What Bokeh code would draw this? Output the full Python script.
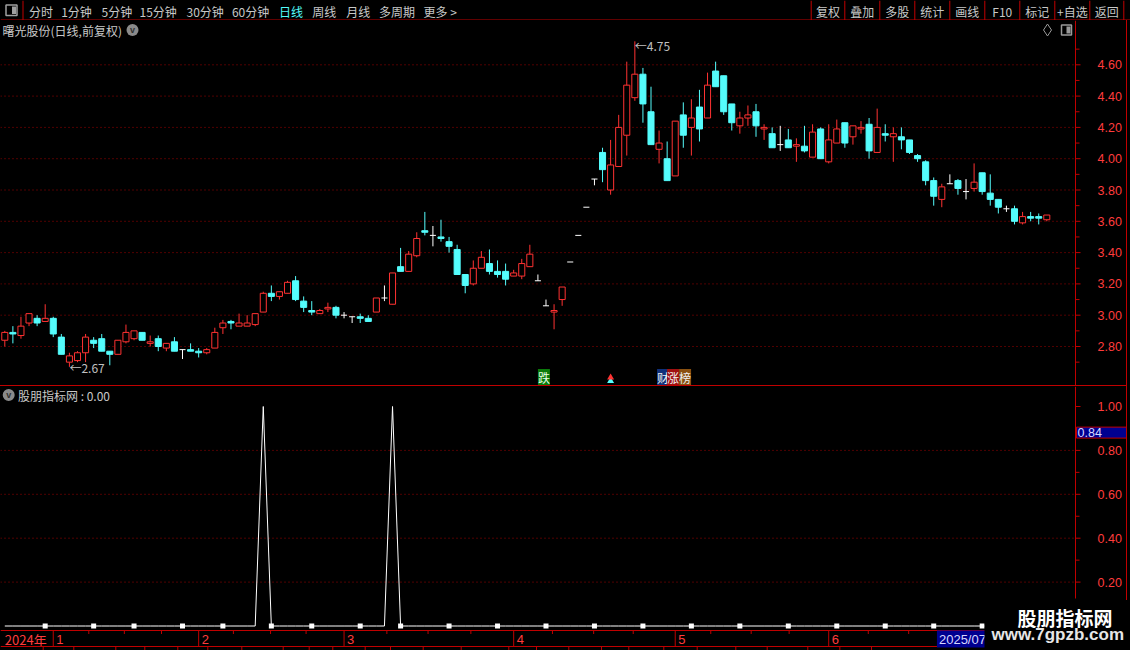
from bokeh.plotting import figure
from bokeh.models import Range1d, Label, Spacer, Span
from bokeh.layouts import column, row
from bokeh.embed import file_html
from bokeh.resources import INLINE
from bokeh.core.properties import value

# ---------------- daily bars (曙光股份, 前复权) ----------------
opens = [
    2.84, 2.89, 2.87, 2.95, 2.98, 2.96, 2.98, 2.86, 2.70, 2.71,
    2.76, 2.84, 2.85, 2.77, 2.75, 2.83, 2.85, 2.89, 2.82, 2.85,
    2.79, 2.83, 2.78, 2.78, 2.77, 2.76, 2.79, 2.92, 2.96, 2.93,
    2.93, 2.94, 3.02, 3.14, 3.12, 3.14, 3.22, 3.09, 3.03, 3.01,
    3.04, 3.05, 3.00, 2.99, 2.99, 2.98, 3.02, 3.11, 3.07, 3.31,
    3.28, 3.38, 3.54, 3.51, 3.50, 3.47, 3.42, 3.26, 3.20, 3.30,
    3.33, 3.28, 3.28, 3.25, 3.25, 3.31, 3.22, 3.06, 3.02, 3.10,
    3.34, 3.51, 3.69, 3.87, 4.04, 3.80, 3.95, 4.15, 4.39, 4.54,
    4.30, 4.06, 4.00, 3.89, 4.28, 4.20, 4.33, 4.26, 4.56, 4.53,
    4.35, 4.21, 4.26, 4.30, 4.19, 4.16, 4.09, 4.12, 4.08, 4.08,
    4.01, 4.19, 3.98, 4.10, 4.23, 4.14, 4.19, 4.22, 4.04, 4.16,
    4.14, 4.14, 4.12, 4.02, 3.98, 3.86, 3.74, 3.84, 3.86, 3.79,
    3.81, 3.91, 3.78, 3.74, 3.68, 3.68, 3.59, 3.63, 3.63, 3.61,
]
highs = [
    2.90, 2.93, 2.99, 3.01, 3.00, 3.07, 2.99, 2.88, 2.76, 2.77,
    2.88, 2.86, 2.88, 2.77, 2.84, 2.94, 2.90, 2.89, 2.87, 2.87,
    2.82, 2.86, 2.78, 2.82, 2.79, 2.79, 2.92, 2.97, 2.97, 3.01,
    3.00, 3.01, 3.15, 3.19, 3.15, 3.22, 3.25, 3.12, 3.09, 3.04,
    3.08, 3.06, 3.02, 2.99, 3.01, 3.00, 3.11, 3.19, 3.27, 3.43,
    3.41, 3.53, 3.66, 3.57, 3.61, 3.50, 3.45, 3.26, 3.35, 3.41,
    3.42, 3.35, 3.33, 3.29, 3.36, 3.45, 3.26, 3.10, 3.07, 3.18,
    3.34, 3.51, 3.69, 3.87, 4.07, 4.12, 4.28, 4.62, 4.75, 4.58,
    4.46, 4.18, 4.11, 4.24, 4.36, 4.38, 4.44, 4.55, 4.62, 4.53,
    4.35, 4.30, 4.34, 4.35, 4.22, 4.20, 4.21, 4.19, 4.13, 4.21,
    4.22, 4.20, 4.22, 4.25, 4.23, 4.21, 4.24, 4.26, 4.32, 4.22,
    4.20, 4.20, 4.12, 4.03, 3.99, 3.88, 3.84, 3.90, 3.87, 3.87,
    3.97, 3.91, 3.90, 3.74, 3.70, 3.70, 3.66, 3.66, 3.65, 3.64,
]
lows = [
    2.80, 2.82, 2.85, 2.93, 2.93, 2.96, 2.86, 2.75, 2.67, 2.70,
    2.70, 2.79, 2.77, 2.68, 2.75, 2.82, 2.84, 2.84, 2.80, 2.77,
    2.77, 2.77, 2.72, 2.77, 2.73, 2.75, 2.79, 2.88, 2.91, 2.93,
    2.93, 2.93, 3.02, 3.09, 3.10, 3.14, 3.09, 3.02, 3.00, 3.01,
    3.02, 2.98, 2.98, 2.95, 2.95, 2.96, 3.02, 3.09, 3.07, 3.28,
    3.28, 3.37, 3.51, 3.44, 3.47, 3.40, 3.26, 3.14, 3.19, 3.30,
    3.26, 3.24, 3.19, 3.25, 3.23, 3.31, 3.22, 3.06, 2.91, 3.06,
    3.34, 3.51, 3.69, 3.83, 3.85, 3.77, 3.95, 4.02, 4.37, 4.23,
    4.09, 3.97, 3.86, 3.89, 4.07, 4.02, 4.11, 4.26, 4.46, 4.28,
    4.18, 4.16, 4.21, 4.14, 4.12, 4.07, 4.05, 4.07, 3.98, 4.04,
    4.01, 4.00, 3.97, 4.10, 4.07, 4.09, 4.16, 4.00, 4.04, 4.11,
    3.98, 4.06, 4.03, 3.98, 3.83, 3.70, 3.69, 3.84, 3.77, 3.74,
    3.79, 3.77, 3.70, 3.65, 3.66, 3.58, 3.58, 3.60, 3.58, 3.60,
]
closes = [
    2.89, 2.88, 2.93, 3.01, 2.95, 2.98, 2.88, 2.75, 2.74, 2.76,
    2.86, 2.82, 2.77, 2.75, 2.84, 2.89, 2.90, 2.84, 2.83, 2.80,
    2.82, 2.77, 2.78, 2.77, 2.76, 2.78, 2.89, 2.95, 2.95, 2.95,
    2.95, 3.01, 3.14, 3.12, 3.15, 3.21, 3.10, 3.05, 3.02, 3.03,
    3.05, 3.00, 3.00, 2.99, 2.98, 2.96, 3.11, 3.11, 3.27, 3.28,
    3.39, 3.49, 3.53, 3.51, 3.49, 3.44, 3.26, 3.19, 3.30, 3.37,
    3.28, 3.26, 3.23, 3.27, 3.33, 3.39, 3.22, 3.06, 3.03, 3.18,
    3.34, 3.51, 3.69, 3.87, 3.93, 3.96, 4.20, 4.47, 4.54, 4.35,
    4.09, 4.10, 3.86, 4.24, 4.15, 4.26, 4.19, 4.47, 4.46, 4.30,
    4.23, 4.26, 4.28, 4.21, 4.20, 4.07, 4.09, 4.07, 4.09, 4.05,
    4.17, 4.00, 4.12, 4.19, 4.10, 4.21, 4.20, 4.05, 4.20, 4.15,
    4.16, 4.12, 4.04, 4.00, 3.86, 3.76, 3.82, 3.84, 3.81, 3.79,
    3.85, 3.79, 3.74, 3.69, 3.68, 3.60, 3.63, 3.62, 3.62, 3.64,
]

# ---------------- indicator (股朋指标网) ----------------
signal = [
    0, 0, 0, 0, 0, 0, 0, 0, 0, 0,
    0, 0, 0, 0, 0, 0, 0, 0, 0, 0,
    0, 0, 0, 0, 0, 0, 0, 0, 0, 0,
    0, 0, 1, 0, 0, 0, 0, 0, 0, 0,
    0, 0, 0, 0, 0, 0, 0, 0, 1, 0,
    0, 0, 0, 0, 0, 0, 0, 0, 0, 0,
    0, 0, 0, 0, 0, 0, 0, 0, 0, 0,
    0, 0, 0, 0, 0, 0, 0, 0, 0, 0,
    0, 0, 0, 0, 0, 0, 0, 0, 0, 0,
    0, 0, 0, 0, 0, 0, 0, 0, 0, 0,
    0, 0, 0, 0, 0, 0, 0, 0, 0, 0,
    0, 0, 0, 0, 0, 0, 0, 0, 0, 0,
    0, 0, 0, 0, 0, 0, 0, 0, 0, 0,
]
signal_dots = [5, 11, 16, 22, 27, 33, 38, 44, 49, 55, 61, 67, 73, 79, 85, 91, 97, 103, 109, 115, 121]
cursor_value = 0.84

# ---------------- scales / calendar ----------------
price_ticks = [2.80, 3.00, 3.20, 3.40, 3.60, 3.80, 4.00, 4.20, 4.40, 4.60]
price_minor = [2.70, 2.90, 3.10, 3.30, 3.50, 3.70, 3.90, 4.10, 4.30, 4.50, 4.70]
ind_ticks = [0.20, 0.40, 0.60, 0.80, 1.00]
ind_grid = [0.20, 0.40, 0.60, 0.80]
ind_minor = [0.10, 0.30, 0.50, 0.70, 0.90]
year_label = "2024年"
month_starts = [6, 24, 42, 63, 83, 102]
month_labels = ["1", "2", "3", "4", "5", "6"]
week_marks = [10.4, 14.8, 19.4, 28.3, 32.9, 37.3, 47.3, 52.4, 57.7, 67.8,
              72.9, 77.8, 87.4, 92.4, 97.1, 106.9, 111.9]
cursor_date = "2025/07/01"
cursor_date_idx = 115.4

# event flags under the bars
flag_drop_idx = 66
flag_arrow_idx = 75
flag_board_idx = 81

# ---------------- colours ----------------
BG = "#000000"
UP = "#ff3232"
DOWN = "#54fcfc"
FLAT = "#ffffff"
FRAME = "#c00000"
GRID = "#a00000"
AXIS_RED = "#ff3c3c"
TXT = "#c8c8c8"
CJK = "Noto Sans CJK SC"
LAT = "Liberation Sans"

# ---------------- geometry ----------------
X_PITCH = 8.0775          # pixels per bar
X_FIRST = 4.3             # pixel centre of the first bar
AXIS_X = 1075             # scale line
PANEL_W = 1126
X_START = -X_FIRST / X_PITCH


def ix(px):
    return X_START + px / X_PITCH


xr = Range1d(X_START, ix(PANEL_W))

# price panel spans page rows 20..385
P_REF, P_REF_Y, P_SCALE = 4.60, 64.3, 156.5


def mp(py):
    return P_REF - (py - P_REF_Y) / P_SCALE


# indicator panel spans page rows 386..650 (calendar strip included)
V_ZERO_Y, V_SCALE = 625.5, 219.5


def iv(py):
    return (V_ZERO_Y - py) / V_SCALE


def base_fig(width, height, x_range, y_range):
    p = figure(width=width, height=height, x_range=x_range, y_range=y_range,
               output_backend="svg", toolbar_location=None,
               x_axis_location=None, y_axis_location=None, min_border=0,
               background_fill_color=BG, border_fill_color=BG, outline_line_color=None)
    p.xgrid.visible = False
    p.ygrid.visible = False
    return p


def value_scale(p, ticks, minor, grid, y_lo, y_hi):
    """Dotted grid, scale line, tick marks and labels drawn at AXIS_X."""
    sx = ix(AXIS_X)
    p.segment(x0=[X_START] * len(grid), x1=[sx] * len(grid), y0=grid, y1=grid,
              color=GRID, line_width=1, line_dash="1 3")
    p.segment(x0=[sx], x1=[sx], y0=[y_lo], y1=[y_hi], color=FRAME, line_width=1)
    p.segment(x0=[sx] * len(ticks), x1=[ix(AXIS_X + 5)] * len(ticks), y0=ticks, y1=ticks,
              color=FRAME, line_width=1)
    p.segment(x0=[sx] * len(minor), x1=[ix(AXIS_X + 4)] * len(minor), y0=minor, y1=minor,
              color=FRAME, line_width=1)
    p.text(x=[ix(AXIS_X + 22)] * len(ticks), y=ticks, text=["%.2f" % t for t in ticks],
           text_color=AXIS_RED, text_font=value(LAT), text_font_size="12.5px",
           text_baseline="middle", text_align="left")


# ================= top menu bar =================
tb = base_fig(1130, 20, Range1d(0, 1130), Range1d(20, 0))
menu_items = ["分时", "1分钟", "5分钟", "15分钟", "30分钟", "60分钟", "日线", "周线", "月线", "多周期", "更多 >"]
menu_x = [28.6, 60.7, 101, 139, 186, 231.4, 278.6, 311.8, 345.7, 378.6, 423]
menu_col = [DOWN if t == "日线" else TXT for t in menu_items]
tb.text(x=menu_x, y=[10.5] * len(menu_x), text=menu_items, text_color=menu_col,
        text_font=value(CJK), text_font_size="12px", text_baseline="middle", text_align="left")
btn_edges = [810.7, 844.3, 879.3, 914.3, 949.3, 984.3, 1019.3, 1054.3, 1089.3, 1123.3]
btn_items = ["复权", "叠加", "多股", "统计", "画线", "F10", "标记", "+自选", "返回"]
btn_mid = [(btn_edges[i] + btn_edges[i + 1]) / 2 for i in range(len(btn_items))]
tb.text(x=btn_mid, y=[10.5] * len(btn_mid), text=btn_items, text_color=TXT,
        text_font=value(CJK), text_font_size="12px", text_baseline="middle", text_align="center")
sep_x = [22.5] + btn_edges
tb.segment(x0=sep_x, y0=[0] * len(sep_x), x1=sep_x, y1=[19.5] * len(sep_x), color=FRAME, line_width=1)
tb.segment(x0=[0], y0=[19.5], x1=[1130], y1=[19.5], color=FRAME, line_width=1)
tb.quad(left=[5.5], right=[16.5], top=[4.5], bottom=[15.0], fill_color=None,
        line_color="#a0a0a0", line_width=1.5)
tb.quad(left=[11.5], right=[15.5], top=[6], bottom=[13.5], fill_color="#a0a0a0", line_color=None)

# ================= price panel =================
main = base_fig(PANEL_W, 365, xr, Range1d(mp(385), mp(20)))
value_scale(main, price_ticks, price_minor, price_ticks, mp(385), mp(20))

n = len(closes)
up = [i for i in range(n) if closes[i] > opens[i]]
dn = [i for i in range(n) if closes[i] < opens[i]]
fl = [i for i in range(n) if closes[i] == opens[i]]
BODY = 0.75

main.segment(x0=up, x1=up, y0=[highs[i] for i in up], y1=[lows[i] for i in up], color=UP, line_width=1)
main.vbar(x=up, width=BODY, top=[closes[i] for i in up], bottom=[opens[i] for i in up],
          fill_color=BG, line_color=UP, line_width=1)
main.segment(x0=dn, x1=dn, y0=[highs[i] for i in dn], y1=[lows[i] for i in dn], color=DOWN, line_width=1)
main.vbar(x=dn, width=BODY, top=[opens[i] for i in dn], bottom=[closes[i] for i in dn],
          fill_color=DOWN, line_color=DOWN, line_width=1)
main.segment(x0=fl, x1=fl, y0=[highs[i] for i in fl], y1=[lows[i] for i in fl], color=FLAT, line_width=1)
main.segment(x0=[i - BODY / 2 for i in fl], x1=[i + BODY / 2 for i in fl],
             y0=[closes[i] for i in fl], y1=[closes[i] for i in fl], color=FLAT, line_width=1)

# highest / lowest markers
hi_i = max(range(n), key=lambda i: highs[i])
lo_i = min(range(n), key=lambda i: lows[i])
main.text(x=[hi_i, lo_i], y=[highs[hi_i], lows[lo_i]],
          text=["←%.2f" % highs[hi_i], "←%.2f" % lows[lo_i]],
          y_offset=[4, 1], text_color="#c0c0c0", text_font=value(CJK), text_font_size="12px",
          text_baseline="middle", text_align="left")

# title line
main.text(x=[ix(2)], y=[mp(29.5)], text=["曙光股份(日线,前复权)"], text_color=TXT,
          text_font=value(CJK), text_font_size="12px", text_baseline="middle", text_align="left")
main.scatter(x=[ix(132)], y=[mp(29.5)], marker="circle", size=12, fill_color="#8a8a8a", line_color=None)
main.text(x=[ix(132)], y=[mp(29.5)], text=["v"], text_color="#303030", text_font=value(LAT),
          text_font_size="9px", text_font_style="bold", text_baseline="middle", text_align="center")
main.scatter(x=[ix(1047)], y=[mp(29.5)], marker="diamond", size=12, fill_color=None,
             line_color="#9a9a9a", line_width=1)
main.quad(left=[ix(1061)], right=[ix(1071)], top=[mp(24.5)], bottom=[mp(34.5)], fill_color=None,
          line_color="#9a9a9a", line_width=1.5)
main.quad(left=[ix(1066)], right=[ix(1070)], top=[mp(26)], bottom=[mp(33)], fill_color="#9a9a9a",
          line_color=None)

# event flags along the bottom of the price panel
main.add_layout(Label(x=flag_drop_idx, y=mp(377), text="跌", text_color="#e8ffe8",
                      text_font=CJK, text_font_size="12px", text_baseline="middle", text_align="left",
                      background_fill_color="#0a7a0a"))
main.scatter(x=[flag_arrow_idx], y=[mp(380.5)], marker="triangle", size=7, fill_color=DOWN, line_color=None)
main.scatter(x=[flag_arrow_idx], y=[mp(377)], marker="triangle", size=7, fill_color=UP, line_color=None)
board_txt = ["财", "涨", "榜"]
board_bg = ["#10307a", "#a01010", "#8a5010"]
board_dx = [-2, 8, 20]
for t, c, dx in zip(board_txt, board_bg, board_dx):
    main.add_layout(Label(x=flag_board_idx, y=mp(377), x_offset=dx, text=t, text_color="#f0f0f0",
                          text_font=CJK, text_font_size="12px", text_baseline="middle",
                          text_align="left", background_fill_color=c))

# ================= indicator panel + calendar strip =================
ind = base_fig(PANEL_W, 264, xr, Range1d(iv(650), iv(386)))
value_scale(ind, ind_ticks, ind_minor, ind_grid, iv(650), iv(386))

ind.line(x=list(range(n)), y=signal, color="#ffffff", line_width=1)
ind.scatter(x=signal_dots, y=[signal[i] for i in signal_dots], marker="square", size=5,
            fill_color="#ffffff", line_color=None)

ind.scatter(x=[ix(8.2)], y=[iv(394.5)], marker="circle", size=12, fill_color="#8a8a8a", line_color=None)
ind.text(x=[ix(8.2)], y=[iv(394.5)], text=["v"], text_color="#303030", text_font=value(LAT),
         text_font_size="9px", text_font_style="bold", text_baseline="middle", text_align="center")
ind.text(x=[ix(17.5)], y=[iv(394.5)], text=["股朋指标网 : %.2f" % signal[-1]], text_color=TXT,
         text_font=value(CJK), text_font_size="12px", text_baseline="middle", text_align="left")

# calendar strip
for py in (630, 646):
    ind.add_layout(Span(location=iv(py), dimension="width", line_color=FRAME, line_width=1))
ind.segment(x0=month_starts, x1=month_starts, y0=[iv(630)] * len(month_starts),
            y1=[iv(646)] * len(month_starts), color=FRAME, line_width=1)
ind.segment(x0=week_marks, x1=week_marks, y0=[iv(630)] * len(week_marks),
            y1=[iv(633.5)] * len(week_marks), color=FRAME, line_width=1)
ind.text(x=month_starts, y=[iv(638.5)] * len(month_starts), text=month_labels, x_offset=3,
         text_color=AXIS_RED, text_font=value(LAT), text_font_size="13px",
         text_baseline="middle", text_align="left")
ind.text(x=[0], y=[iv(638.5)], text=[year_label], text_color=AXIS_RED, text_font=value(CJK),
         text_font_size="13px", text_baseline="middle", text_align="left")
tab_px = [42.7, 73.3, 115.3, 144.3, 177.3, 207.3, 241.3, 282.7, 308.7, 332.3, 364.7, 390,
          422.7, 460.7, 508.3, 536, 568.3, 601, 628.3, 663.3, 696.7, 735.3, 766.7, 807.3, 839.3, 871]
tab_x = [ix(v) for v in tab_px]
ind.segment(x0=tab_x, x1=tab_x, y0=[iv(646)] * len(tab_x), y1=[iv(650)] * len(tab_x),
            color=FRAME, line_width=1)

ind.add_layout(Label(x=cursor_date_idx, y=iv(638.5), text=cursor_date, text_color="#d8d8ff",
                     text_font=LAT, text_font_size="13px", text_baseline="middle", text_align="left",
                     background_fill_color="#000090", padding=dict(left=2, right=2, top=1, bottom=1)))
# cursor read-out box, raised so that its lower edge rests on its level
ind.add_layout(Label(x=ix(AXIS_X + 1), y=cursor_value + 9 / V_SCALE, text="%.2f" % cursor_value,
                     text_color="#d8d8ff", text_font=LAT, text_font_size="12.5px",
                     text_baseline="middle", text_align="left", background_fill_color="#000090",
                     border_line_color=FRAME, padding=dict(left=1, right=26, top=1, bottom=1)))

# site badge in the lower-right corner
ind.add_layout(Label(x=ix(984), y=iv(598), text="股朋指标网", text_color="#ffffff",
                     text_font=CJK, text_font_size="19px", text_font_style="bold",
                     text_baseline="top", text_align="left", background_fill_color=BG,
                     padding=dict(left=33, right=40, top=5, bottom=40)))
ind.add_layout(Label(x=ix(991), y=iv(634), text="www.7gpzb.com", text_color="#e6e6e6",
                     text_font=LAT, text_font_size="17px", text_font_style="bold",
                     text_baseline="middle", text_align="left"))

# ================= assemble =================
sep = Spacer(width=PANEL_W, height=1, styles={"background-color": FRAME})
edge = column(Spacer(width=1, height=580, styles={"background-color": FRAME}),
              Spacer(width=1, height=50, styles={"background-color": BG}))
pad = Spacer(width=3, height=630, styles={"background-color": BG})
layout = column(tb, row(column(main, sep, ind), edge, pad), styles={"background-color": BG})

open("out.html", "w").write(file_html(layout, INLINE, title="曙光股份"))
